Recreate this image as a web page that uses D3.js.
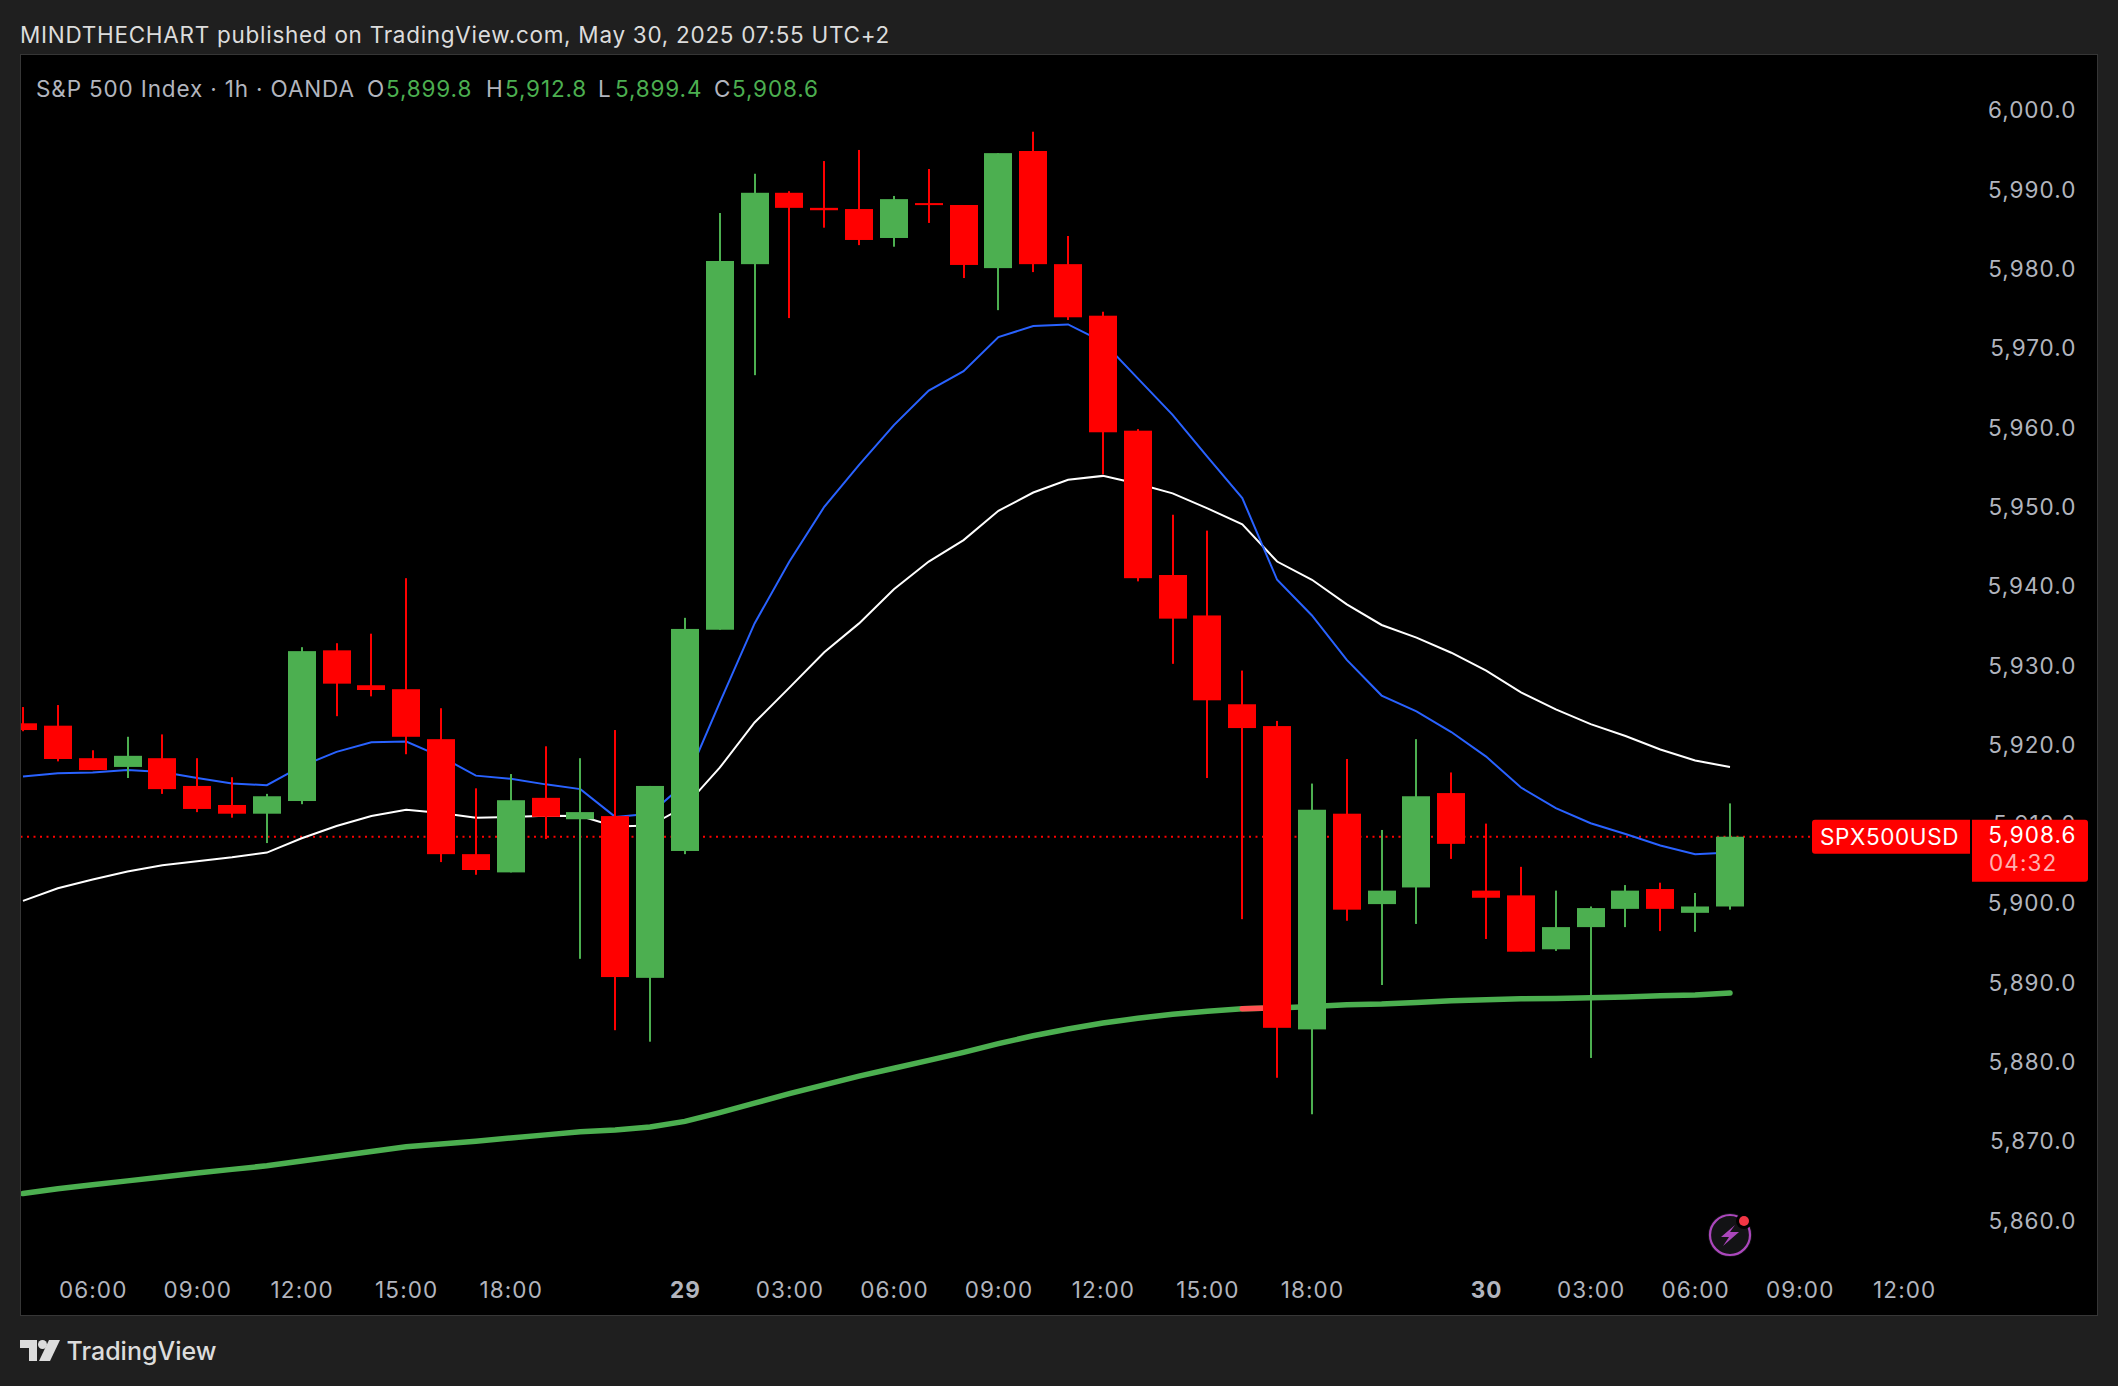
<!DOCTYPE html>
<html>
<head>
<meta charset="utf-8">
<title>S&amp;P 500 Index 1h</title>
<script src="https://cdnjs.cloudflare.com/ajax/libs/d3/7.8.5/d3.min.js"></script>
<style>
    html, body { margin: 0; padding: 0; background: #1f1f1f; }
    svg { display: block; }
    text { font-family: Inter, Roboto, sans-serif; }
</style>
</head>
<body>
<svg id="chart" width="2118" height="1386"></svg>
<script>
// OHLC, one entry per hourly bar
const opens = [5922.9, 5922.6, 5918.5, 5917.4, 5918.5, 5915.0, 5912.6, 5911.5, 5913.1, 5932.1,
    5927.7, 5927.2, 5920.9, 5906.4, 5904.1, 5913.5, 5910.8, 5911.2, 5890.8, 5906.8,
    5934.7, 5980.8, 5989.8, 5987.9, 5987.75, 5984.1, 5988.5, 5988.26, 5980.3, 5995.07,
    5980.8, 5974.3, 5959.8, 5941.6, 5936.5, 5925.3, 5922.55, 5884.3, 5911.5, 5900.1,
    5902.2, 5914.1, 5901.8, 5901.2, 5894.4, 5897.2, 5899.5, 5902.0, 5899.0, 5899.8];
const highs = [5924.95, 5925.2, 5919.5, 5921.2, 5921.5, 5918.5, 5916.1, 5914.0, 5932.5, 5933.0,
    5934.2, 5941.2, 5924.8, 5914.7, 5916.5, 5920.0, 5918.5, 5922.05, 5915.0, 5936.2,
    5987.25, 5992.2, 5990.0, 5993.8, 5995.2, 5989.4, 5992.8, 5988.26, 5994.8, 5997.5,
    5984.35, 5974.8, 5960.0, 5949.2, 5947.2, 5929.55, 5923.2, 5915.3, 5918.4, 5909.45,
    5920.9, 5916.7, 5910.25, 5904.8, 5901.8, 5899.8, 5902.5, 5902.8, 5901.5, 5912.8];
const lows = [5921.9, 5918.1, 5917.0, 5916.0, 5914.0, 5911.7, 5911.0, 5907.8, 5912.7, 5923.8,
    5926.3, 5919.0, 5905.4, 5903.8, 5904.1, 5908.3, 5893.2, 5884.2, 5882.75, 5906.4,
    5934.7, 5966.8, 5974.0, 5985.4, 5983.2, 5983.0, 5986.0, 5979.05, 5975.0, 5979.8,
    5973.76, 5954.3, 5940.8, 5930.4, 5916.0, 5898.2, 5878.2, 5873.6, 5898.0, 5889.9,
    5897.6, 5905.8, 5895.7, 5894.1, 5894.2, 5880.7, 5897.2, 5896.7, 5896.6, 5899.4];
const closes = [5922.05, 5918.4, 5917.0, 5918.8, 5914.6, 5912.1, 5911.5, 5913.7, 5932.0, 5927.9,
    5927.1, 5921.2, 5906.4, 5904.4, 5913.2, 5911.1, 5911.7, 5890.9, 5915.0, 5934.8,
    5981.2, 5989.8, 5987.9, 5987.6, 5983.85, 5989.0, 5988.26, 5980.7, 5994.8, 5980.8,
    5974.1, 5959.6, 5941.2, 5936.1, 5925.8, 5922.3, 5884.5, 5912.0, 5899.4, 5901.8,
    5913.7, 5907.7, 5900.9, 5894.1, 5897.2, 5899.6, 5901.8, 5899.5, 5899.8, 5908.6];

// Moving averages
const blueLine = [5916.2, 5916.6, 5916.7, 5917.0, 5916.75, 5916.0, 5915.3, 5915.1, 5917.5, 5919.3,
    5920.5, 5920.6, 5918.7, 5916.3, 5915.9, 5915.2, 5914.6, 5911.1, 5911.5, 5915.3,
    5925.5, 5935.5, 5943.3, 5950.2, 5955.5, 5960.5, 5964.85, 5967.3, 5971.6, 5973.0,
    5973.2, 5971.0, 5966.4, 5961.8, 5956.5, 5951.3, 5941.0, 5936.5, 5930.9, 5926.4,
    5924.4, 5921.8, 5918.7, 5914.8, 5912.2, 5910.3, 5908.95, 5907.5, 5906.4, 5906.6];
const whiteLine = [5900.5, 5902.1, 5903.2, 5904.2, 5905.0, 5905.5, 5906.0, 5906.6, 5908.4, 5909.95,
    5911.2, 5912.0, 5911.6, 5911.0, 5911.1, 5911.25, 5911.2, 5909.9, 5910.0, 5912.4,
    5917.3, 5923.0, 5927.4, 5931.85, 5935.5, 5939.8, 5943.3, 5946.0, 5949.7, 5952.0,
    5953.6, 5954.1, 5953.1, 5951.9, 5950.0, 5948.0, 5943.3, 5941.0, 5937.9, 5935.3,
    5933.7, 5931.8, 5929.55, 5926.8, 5924.65, 5922.8, 5921.3, 5919.6, 5918.2, 5917.4];
const greenLine = [5863.6, 5864.2, 5864.7, 5865.2, 5865.7, 5866.2, 5866.65, 5867.1, 5867.7, 5868.3,
    5868.9, 5869.5, 5869.85, 5870.2, 5870.6, 5871.0, 5871.4, 5871.6, 5872.0, 5872.7,
    5873.8, 5875.0, 5876.2, 5877.3, 5878.4, 5879.4, 5880.4, 5881.4, 5882.5, 5883.5,
    5884.35, 5885.1, 5885.7, 5886.2, 5886.6, 5886.9, 5887.0, 5887.2, 5887.4, 5887.5,
    5887.7, 5887.9, 5888.05, 5888.15, 5888.2, 5888.3, 5888.4, 5888.55, 5888.65, 5888.9];
// The one stretch of the thick line that turned red
const greenLineRedBars = [35, 36];

// Axis ticks
const priceTicks = [6000, 5990, 5980, 5970, 5960, 5950, 5940, 5930, 5920, 5910, 5900, 5890, 5880, 5870, 5860];
const timeTickBars = [2, 5, 8, 11, 14, 19, 22, 25, 28, 31, 34, 37, 42, 45, 48, 51, 54];
const timeTickLabels = ['06:00', '09:00', '12:00', '15:00', '18:00', '29', '03:00', '06:00', '09:00',
    '12:00', '15:00', '18:00', '30', '03:00', '06:00', '09:00', '12:00'];
const lastPrice = 5908.6;

const legendParts = [
    { text: 'S&P 500 Index · 1h · OANDA', x: 36, color: '#b2b5be' },
    { text: 'O', x: 367, color: '#b2b5be' },
    { text: '5,899.8', x: 386, color: '#4caf50' },
    { text: 'H', x: 486, color: '#b2b5be' },
    { text: '5,912.8', x: 505, color: '#4caf50' },
    { text: 'L', x: 598, color: '#b2b5be' },
    { text: '5,899.4', x: 615, color: '#4caf50' },
    { text: 'C', x: 714, color: '#b2b5be' },
    { text: '5,908.6', x: 732, color: '#4caf50' }
];

const frame = { left: 20.5, top: 54.5, right: 2097.5, bottom: 1315.5 };
const upColor = '#4caf50';
const downColor = '#ff0000';
const barWidth = 28;

const svg = d3.select('#chart');

// Page header
svg.append('text')
    .attr('x', 20)
    .attr('y', 43)
    .style('font-size', '22.5px')
    .style('letter-spacing', '0.72px')
    .style('fill', '#dcdcdc')
    .text('MINDTHECHART published on TradingView.com, May 30, 2025 07:55 UTC+2');

// Chart pane
svg.append('rect')
    .attr('x', frame.left)
    .attr('y', frame.top)
    .attr('width', frame.right - frame.left)
    .attr('height', frame.bottom - frame.top)
    .attr('fill', '#000')
    .attr('stroke', '#363636');

svg.append('clipPath')
    .attr('id', 'pane')
    .append('rect')
    .attr('x', frame.left + 0.5)
    .attr('y', frame.top + 0.5)
    .attr('width', frame.right - frame.left - 1)
    .attr('height', frame.bottom - frame.top - 1);

// Scales
const xScale = d3.scaleLinear()
    .domain([0, 49])
    .range([23, 1730]);

const yScale = d3.scaleLinear()
    .domain([6000, 5860])
    .range([111.9, 1222.1]);

const bars = d3.range(opens.length);

// Axes, price labels first so the red tag can cover 5,910.0
const priceAxis = svg.append('g')
    .attr('transform', 'translate(2076.5,0)')
    .call(d3.axisRight(yScale)
        .tickValues(priceTicks)
        .tickSize(0)
        .tickPadding(0)
        .tickFormat(d3.format(',.1f')));

priceAxis.select('.domain').remove();
priceAxis.selectAll('text')
    .attr('text-anchor', 'end')
    .attr('dy', '0.27em')
    .style('font-family', 'Inter, Roboto, sans-serif')
    .style('font-size', '22.5px')
    .style('letter-spacing', '1.05px')
    .style('fill', '#b2b5be');

const timeAxis = svg.append('g')
    .attr('transform', 'translate(0,1298)')
    .call(d3.axisBottom(xScale)
        .tickValues(timeTickBars)
        .tickSize(0)
        .tickPadding(0)
        .tickFormat((d, i) => timeTickLabels[i]));

timeAxis.select('.domain').remove();
timeAxis.selectAll('text')
    .attr('dy', 0)
    .style('font-family', 'Inter, Roboto, sans-serif')
    .style('font-size', '22.5px')
    .style('letter-spacing', '1.1px')
    .style('fill', '#b2b5be')
    .style('font-weight', (d, i) => timeTickLabels[i].length === 2 ? '700' : '400');

const plot = svg.append('g').attr('clip-path', 'url(#pane)');

// Last price line
plot.append('line')
    .attr('x1', frame.left)
    .attr('x2', 1812)
    .attr('y1', yScale(lastPrice))
    .attr('y2', yScale(lastPrice))
    .attr('stroke', downColor)
    .attr('stroke-width', 2)
    .attr('stroke-dasharray', '2 4.5');

// Moving averages
const line = d3.line()
    .x(d => xScale(d))
    .curve(d3.curveLinear);

plot.append('path')
    .attr('d', line.y(d => yScale(whiteLine[d]))(bars))
    .attr('fill', 'none')
    .attr('stroke', '#ffffff')
    .attr('stroke-width', 2);

plot.append('path')
    .attr('d', line.y(d => yScale(blueLine[d]))(bars))
    .attr('fill', 'none')
    .attr('stroke', '#2962ff')
    .attr('stroke-width', 2);

plot.append('path')
    .attr('d', line.y(d => yScale(greenLine[d]))(bars))
    .attr('fill', 'none')
    .attr('stroke', upColor)
    .attr('stroke-width', 5.5)
    .attr('stroke-linecap', 'round');

plot.append('path')
    .attr('d', line.y(d => yScale(greenLine[d]))(greenLineRedBars))
    .attr('fill', 'none')
    .attr('stroke', '#ff5252')
    .attr('stroke-width', 5.5)
    .attr('stroke-linecap', 'round');

// Candles
const candleColor = i => closes[i] >= opens[i] ? upColor : downColor;

plot.selectAll('.wick')
    .data(bars)
    .join('rect')
    .attr('class', 'wick')
    .attr('x', d => Math.round(xScale(d)) - 1)
    .attr('width', 2)
    .attr('y', d => yScale(highs[d]))
    .attr('height', d => yScale(lows[d]) - yScale(highs[d]))
    .attr('fill', candleColor);

plot.selectAll('.body')
    .data(bars)
    .join('rect')
    .attr('class', 'body')
    .attr('x', d => Math.round(xScale(d)) - barWidth / 2)
    .attr('width', barWidth)
    .attr('y', d => yScale(Math.max(opens[d], closes[d])))
    .attr('height', d => Math.max(2, Math.abs(yScale(opens[d]) - yScale(closes[d]))))
    .attr('fill', candleColor);

// Symbol legend
svg.append('g')
    .selectAll('text')
    .data(legendParts)
    .join('text')
    .attr('x', d => d.x)
    .attr('y', 97)
    .style('font-size', '22.5px')
    .style('letter-spacing', '0.85px')
    .style('fill', d => d.color)
    .text(d => d.text);

// Red last price tags
const tagTop = yScale(lastPrice) - 17;

svg.append('path')
    .attr('d', `M1815,${tagTop}H1970V${tagTop + 34}H1815a3,3 0 0 1 -3,-3V${tagTop + 3}a3,3 0 0 1 3,-3Z`)
    .attr('fill', downColor);

svg.append('path')
    .attr('d', `M1972,${tagTop}H2085a3,3 0 0 1 3,3V${tagTop + 59}a3,3 0 0 1 -3,3H1972Z`)
    .attr('fill', downColor);

svg.append('text')
    .attr('x', 1820)
    .attr('y', tagTop + 25)
    .style('font-size', '22.5px')
    .style('letter-spacing', '0.6px')
    .style('fill', '#ffffff')
    .text('SPX500USD');

svg.append('text')
    .attr('x', 2076.5)
    .attr('y', tagTop + 23)
    .attr('text-anchor', 'end')
    .style('font-size', '22.5px')
    .style('letter-spacing', '1.05px')
    .style('fill', '#ffffff')
    .text(d3.format(',.1f')(lastPrice));

svg.append('text')
    .attr('x', 1989)
    .attr('y', tagTop + 51)
    .style('font-size', '22.5px')
    .style('letter-spacing', '1.1px')
    .style('fill', '#ffffff')
    .style('fill-opacity', 0.7)
    .text('04:32');

// Lightning badge
const badge = svg.append('g').attr('transform', 'translate(1730,1235)');

badge.append('circle')
    .attr('r', 22)
    .attr('fill', '#131315');

badge.append('circle')
    .attr('r', 20)
    .attr('fill', 'none')
    .attr('stroke', '#ab47bc')
    .attr('stroke-width', 2.2);

badge.append('path')
    .attr('d', 'M5,-10 L-9,2 L-1,2 L-7,11 L9,-3 L0,-3 Z')
    .attr('fill', '#ab47bc');

badge.append('circle')
    .attr('cx', 14)
    .attr('cy', -14)
    .attr('r', 8)
    .attr('fill', '#000');

badge.append('circle')
    .attr('cx', 14)
    .attr('cy', -14)
    .attr('r', 5)
    .attr('fill', '#f23645');

// TradingView logo
const logo = svg.append('g')
    .attr('transform', 'translate(20,1340)')
    .attr('fill', '#dcdcdc');

logo.append('path').attr('d', 'M0,0H17V21H9V8H0Z');
logo.append('circle').attr('cx', 22.5).attr('cy', 4.5).attr('r', 4.5);
logo.append('path').attr('d', 'M29,0H40L30,21H19Z');

svg.append('text')
    .attr('x', 66.5)
    .attr('y', 1360)
    .style('font-size', '25px')
    .style('font-weight', '500')
    .style('fill', '#dcdcdc')
    .text('TradingView');
</script>
</body>
</html>
